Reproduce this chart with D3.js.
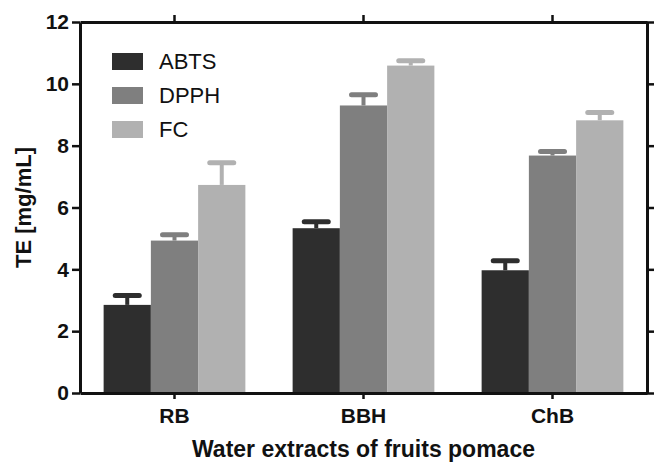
<!DOCTYPE html>
<html>
<head>
<meta charset="utf-8">
<script src="https://cdn.jsdelivr.net/npm/d3@7"></script>
<style>
  body { margin: 0; background: #fff; }
  svg text { font-family: "Liberation Sans", Arial, sans-serif; }
  .axis path, .axis line { stroke: #111; }
</style>
</head>
<body>
<div id="chart"></div>
<script>
var categories = ["RB", "BBH", "ChB"];
var seriesNames = ["ABTS", "DPPH", "FC"];
var seriesColors = ["#2e2e2e", "#7f7f7f", "#b1b1b1"];
// mean values per series, in category order
var abts = [2.85, 5.33, 3.97];
var dpph = [4.93, 9.30, 7.68];
var fc = [6.73, 10.59, 8.82];
// upper end of the error bars
var abtsErr = [3.15, 5.54, 4.28];
var dpphErr = [5.12, 9.65, 7.81];
var fcErr = [7.45, 10.75, 9.07];
var yTicks = [0, 2, 4, 6, 8, 10, 12];

var margin = {top: 22, right: 7, bottom: 69, left: 80};
var W = 654, H = 462;
var width = W - margin.left - margin.right;
var height = H - margin.top - margin.bottom;

var values = [abts, dpph, fc];
var errs = [abtsErr, dpphErr, fcErr];
var data = [];
categories.forEach(function(c, i) {
  seriesNames.forEach(function(s, j) {
    data.push({cat: c, series: s, idx: j, value: values[j][i], err: errs[j][i]});
  });
});

var svg = d3.select("#chart").append("svg")
  .attr("width", W)
  .attr("height", H);

var g = svg.append("g")
  .attr("transform", "translate(" + margin.left + "," + margin.top + ")");

var x0 = d3.scaleBand().domain(categories).range([0, width])
  .paddingInner(0.25).paddingOuter(0.125);
var x1 = d3.scaleBand().domain(seriesNames).range([0, x0.bandwidth()]);
var y = d3.scaleLinear().domain([0, 12]).range([height, 0]);
var color = d3.scaleOrdinal().domain(seriesNames).range(seriesColors);

// bars
g.selectAll(".bar")
  .data(data)
  .enter().append("rect")
    .attr("class", "bar")
    .attr("x", function(d) { return x0(d.cat) + x1(d.series); })
    .attr("y", function(d) { return y(d.value); })
    .attr("width", x1.bandwidth())
    .attr("height", function(d) { return height - y(d.value); })
    .attr("fill", function(d) { return color(d.series); });

// error bars (upper only)
var eb = g.selectAll(".err")
  .data(data)
  .enter().append("g")
    .attr("class", "err")
    .attr("transform", function(d) { return "translate(" + (x0(d.cat) + x1(d.series) + x1.bandwidth() / 2) + ",0)"; });

eb.append("line")
  .attr("y1", function(d) { return y(d.value); })
  .attr("y2", function(d) { return y(d.err); })
  .attr("stroke", function(d) { return color(d.series); })
  .attr("stroke-width", 4);

eb.append("line")
  .attr("x1", -12).attr("x2", 12)
  .attr("y1", function(d) { return y(d.err); })
  .attr("y2", function(d) { return y(d.err); })
  .attr("stroke", function(d) { return color(d.series); })
  .attr("stroke-width", 5)
  .attr("stroke-linecap", "round");

// axes
var yAxis = g.append("g")
  .attr("class", "axis")
  .call(d3.axisLeft(y).tickValues(yTicks).tickSize(8).tickPadding(3).tickSizeOuter(0));
yAxis.select(".domain").attr("stroke-width", 3);
yAxis.selectAll(".tick line").attr("stroke-width", 2.5);
yAxis.selectAll("text")
  .attr("font-size", 21).attr("font-weight", "bold").attr("fill", "#111");

var yRight = g.append("g")
  .attr("class", "axis")
  .attr("transform", "translate(" + width + ",0)")
  .call(d3.axisRight(y).tickValues(yTicks).tickSize(8).tickFormat("").tickSizeOuter(0));
yRight.select(".domain").attr("stroke-width", 3);
yRight.selectAll(".tick line").attr("stroke-width", 2.5);

var xAxis = g.append("g")
  .attr("class", "axis")
  .attr("transform", "translate(0," + height + ")")
  .call(d3.axisBottom(x0).tickSize(6).tickPadding(9).tickSizeOuter(0));
xAxis.select(".domain").attr("stroke-width", 3);
xAxis.selectAll(".tick line").attr("stroke-width", 2.5);
xAxis.selectAll("text")
  .attr("font-size", 21).attr("font-weight", "bold").attr("fill", "#111");

var xTop = g.append("g")
  .attr("class", "axis")
  .call(d3.axisTop(x0).tickSize(7).tickFormat("").tickSizeOuter(0));
xTop.select(".domain").attr("stroke-width", 3);
xTop.selectAll(".tick line").attr("stroke-width", 2.5);

// axis titles
g.append("text")
  .attr("x", width / 2)
  .attr("y", height + 64)
  .attr("text-anchor", "middle")
  .attr("font-size", 23)
  .attr("font-weight", "bold")
  .attr("fill", "#111")
  .text("Water extracts of fruits pomace");

g.append("text")
  .attr("transform", "rotate(-90)")
  .attr("x", -y(6))
  .attr("y", -margin.left + 31)
  .attr("text-anchor", "middle")
  .attr("font-size", 22)
  .attr("font-weight", "bold")
  .attr("fill", "#111")
  .text("TE [mg/mL]");

// legend
var legend = g.selectAll(".legend")
  .data(seriesNames)
  .enter().append("g")
    .attr("class", "legend")
    .attr("transform", function(d, i) { return "translate(32," + (31 + i * 34) + ")"; });

legend.append("rect")
  .attr("width", 31)
  .attr("height", 17)
  .attr("fill", function(d) { return color(d); });

legend.append("text")
  .attr("x", 47)
  .attr("y", 16)
  .attr("font-size", 22)
  .attr("fill", "#111")
  .text(function(d) { return d; });
</script>
</body>
</html>
